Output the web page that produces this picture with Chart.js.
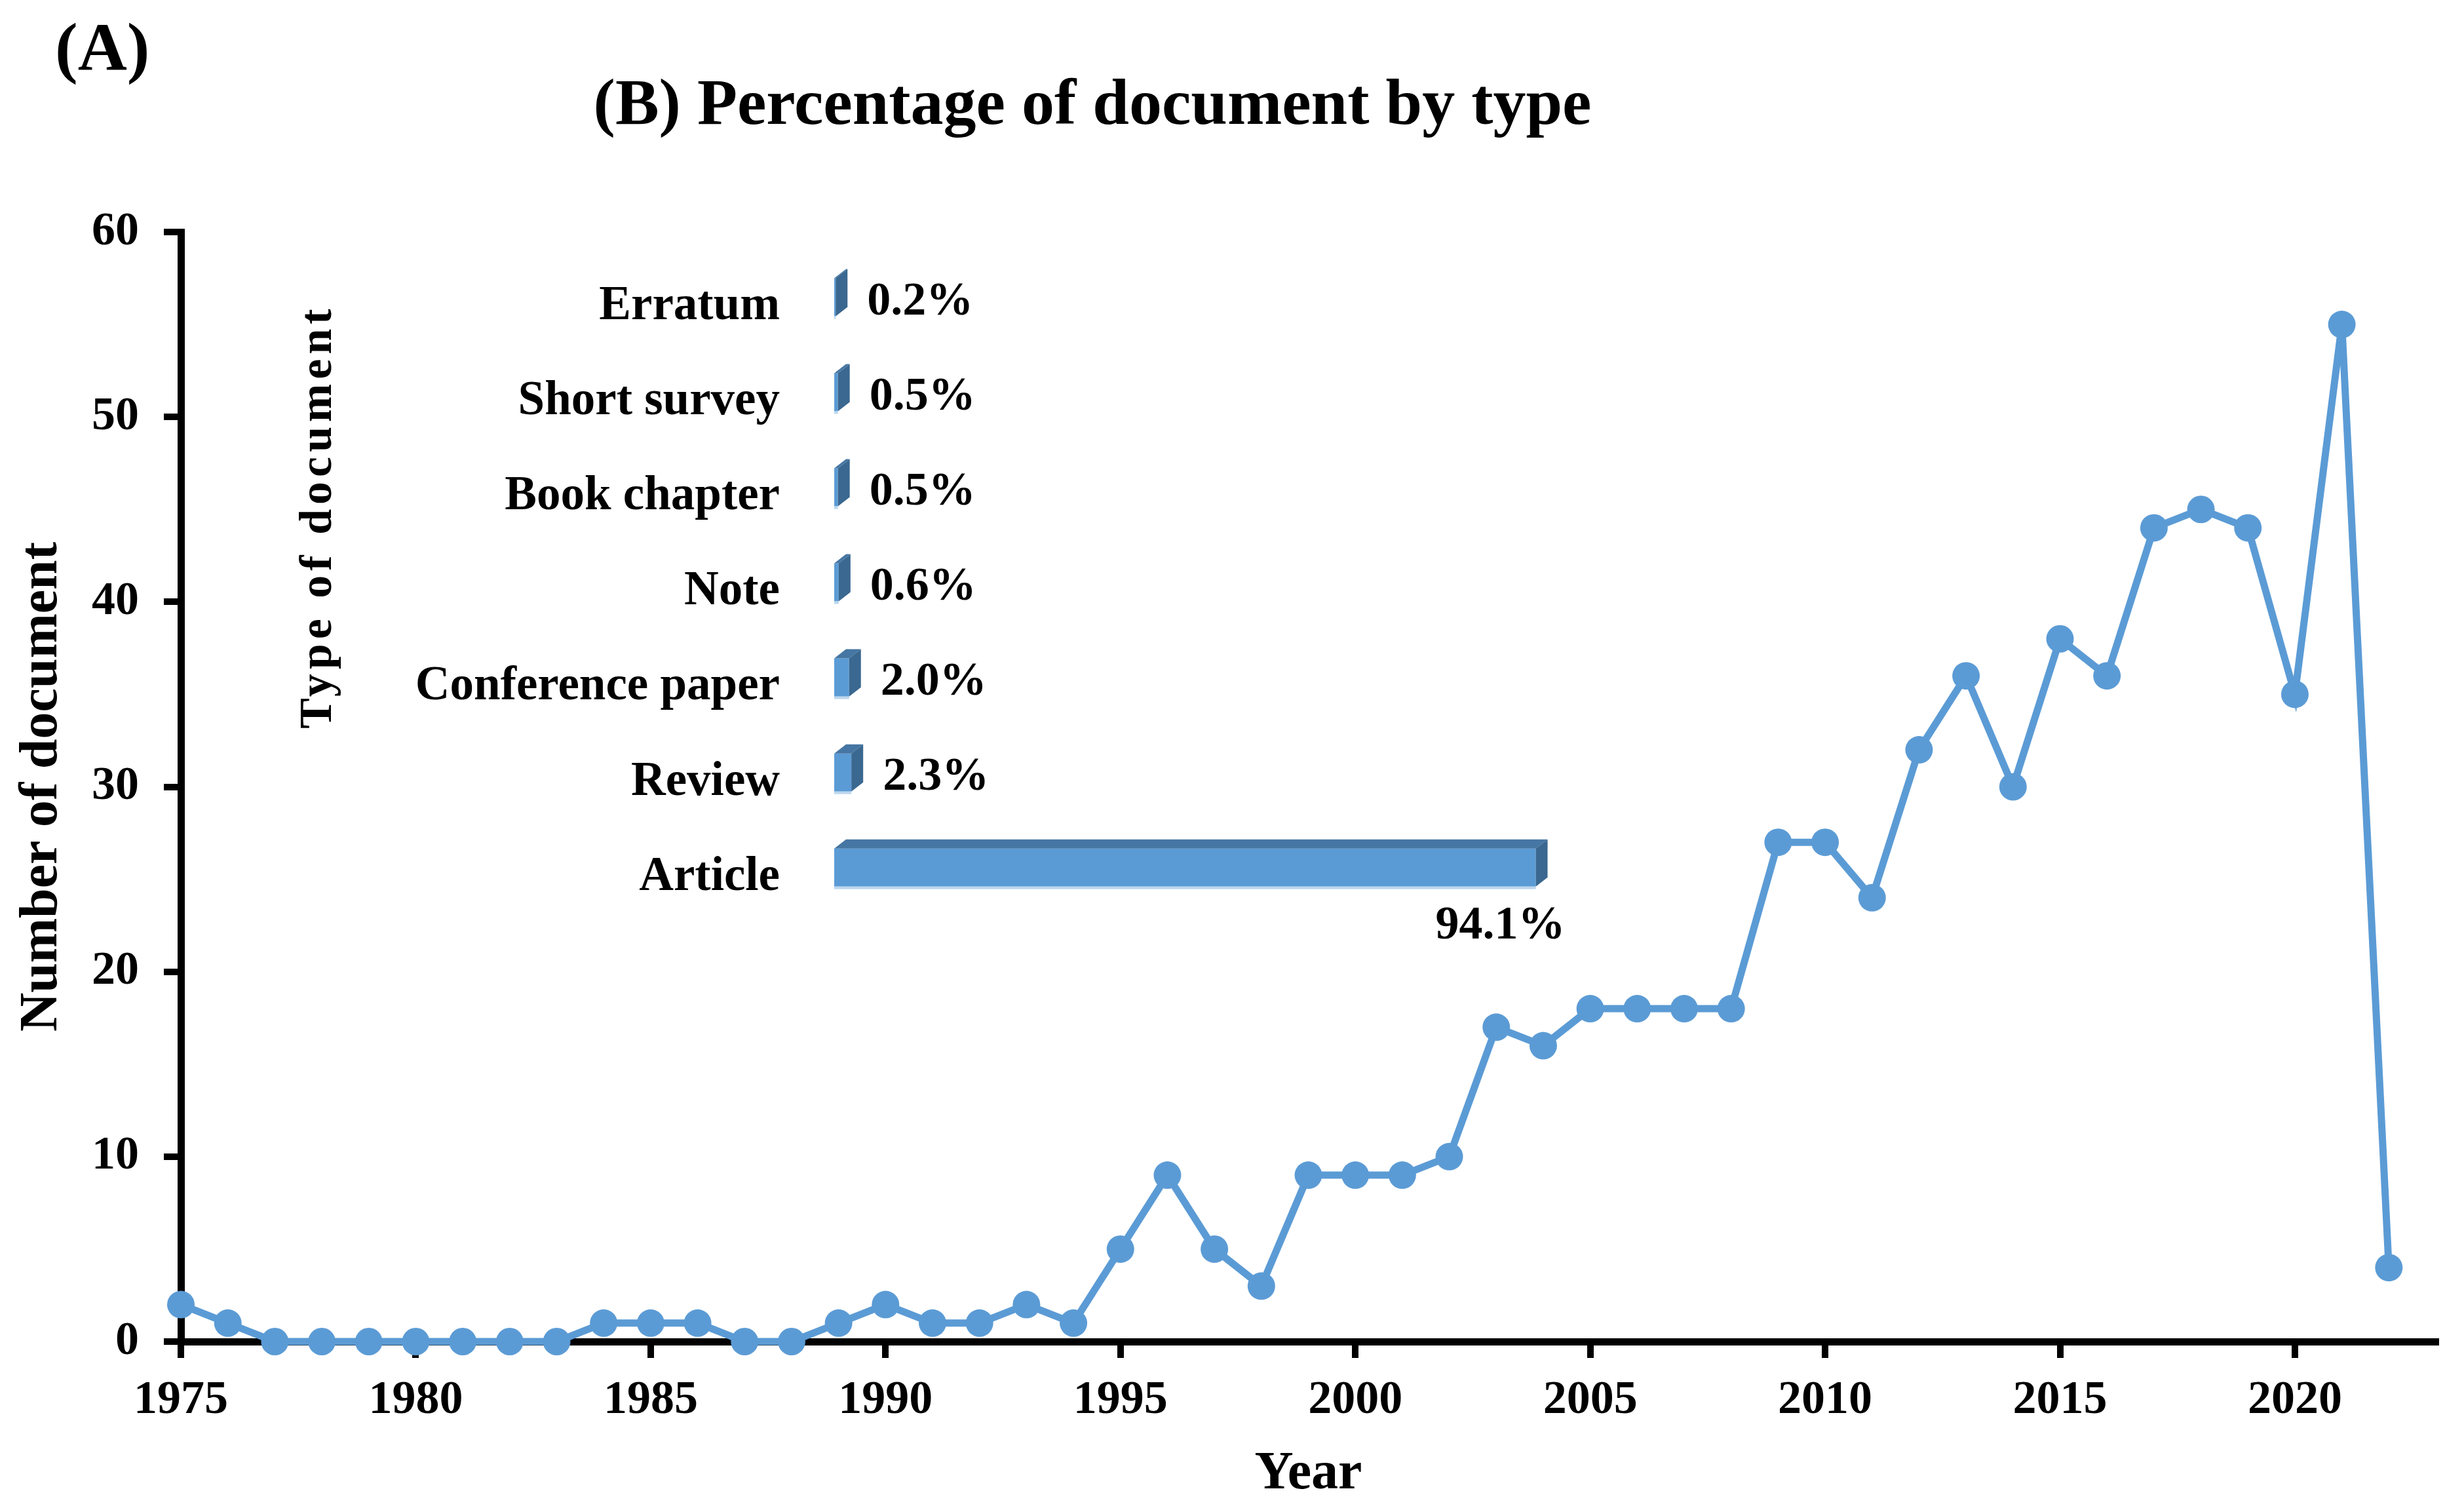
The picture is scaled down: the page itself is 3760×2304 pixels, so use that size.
<!DOCTYPE html>
<html>
<head>
<meta charset="utf-8">
<script src="https://cdn.jsdelivr.net/npm/chart.js@4.4.1/dist/chart.umd.min.js"></script>
<style>
    html, body { margin: 0; padding: 0; background: #fff; }
    #wrap { position: relative; width: 3760px; height: 2304px; }
    #mainChart { position: absolute; left: 0; top: 0; }
    #typeChart { position: absolute; left: 400px; top: 80px; }
</style>
</head>
<body>
<div id="wrap">
    <canvas id="mainChart" width="3760" height="2304"></canvas>
    <canvas id="typeChart" width="2534" height="1443"></canvas>
</div>
<script>
// (A) documents per year
const years = [
    1975, 1976, 1977, 1978, 1979, 1980, 1981, 1982, 1983, 1984,
    1985, 1986, 1987, 1988, 1989, 1990, 1991, 1992, 1993, 1994,
    1995, 1996, 1997, 1998, 1999, 2000, 2001, 2002, 2003, 2004,
    2005, 2006, 2007, 2008, 2009, 2010, 2011, 2012, 2013, 2014,
    2015, 2016, 2017, 2018, 2019, 2020, 2021, 2022
];
const documentCounts = [
    2, 1, 0, 0, 0, 0, 0, 0, 0, 1,
    1, 1, 0, 0, 1, 2, 1, 1, 2, 1,
    5, 9, 5, 3, 9, 9, 9, 10, 17, 16,
    18, 18, 18, 18, 27, 27, 24, 32, 36, 30,
    38, 36, 44, 45, 44, 35, 55, 4
];
const yearTicks = [1975, 1980, 1985, 1990, 1995, 2000, 2005, 2010, 2015, 2020];

// (B) share of documents by type (%)
const docTypes = ['Erratum', 'Short survey', 'Book chapter', 'Note', 'Conference paper', 'Review', 'Article'];
const docTypeShares = [0.2, 0.5, 0.5, 0.6, 2.0, 2.3, 94.1];

const panelA = '(A)';
const panelBTitle = '(B) Percentage of document by type';
const typeAxisTitle = 'Type of document';

const serif = "'Liberation Serif', 'Times New Roman', serif";
const blue = '#5B9BD5';
Chart.defaults.font.family = serif;
Chart.defaults.color = '#000';

const axisGrid = {
    drawOnChartArea: false,
    drawTicks: true,
    tickLength: 25,
    tickWidth: 10,
    tickColor: '#000',
    color: '#000',
    lineWidth: 10
};
const axisBorder = { display: true, color: '#000', width: 11 };

const panelLabel = {
    id: 'panelLabel',
    afterDraw(chart) {
        const ctx = chart.ctx;
        ctx.save();
        ctx.font = 'bold 104px ' + serif;
        ctx.fillStyle = '#000';
        ctx.textAlign = 'left';
        ctx.textBaseline = 'middle';
        ctx.fillText(panelA, 84, 80);
        ctx.restore();
    }
};

new Chart(document.getElementById('mainChart'), {
    type: 'line',
    data: {
        datasets: [{
            data: years.map((y, i) => ({ x: y, y: documentCounts[i] })),
            borderColor: blue,
            backgroundColor: blue,
            borderWidth: 11,
            pointRadius: 21,
            pointHoverRadius: 21,
            pointBorderWidth: 0,
            tension: 0,
            clip: false
        }]
    },
    options: {
        responsive: false,
        animation: false,
        layout: { padding: { top: 354, right: 43, left: 0, bottom: 0 } },
        plugins: {
            legend: { display: false },
            tooltip: { enabled: false }
        },
        scales: {
            x: {
                type: 'linear',
                min: 1975,
                max: 2023,
                afterBuildTicks: scale => {
                    scale.ticks = yearTicks.map(v => ({ value: v }));
                },
                afterFit: scale => { scale.height = 257; },
                ticks: {
                    font: { size: 72, weight: 'bold' },
                    color: '#000',
                    padding: 22,
                    maxRotation: 0,
                    autoSkip: false,
                    callback: v => String(v)
                },
                grid: axisGrid,
                border: axisBorder,
                title: {
                    display: true,
                    text: 'Year',
                    font: { size: 82, weight: 'bold' },
                    color: '#000',
                    padding: { top: 0, bottom: 5 }
                }
            },
            y: {
                min: 0,
                max: 60,
                afterFit: scale => { scale.width = 276; },
                ticks: {
                    stepSize: 10,
                    font: { size: 72, weight: 'bold' },
                    color: '#000',
                    padding: 38
                },
                grid: Object.assign({}, axisGrid, { tickLength: 26 }),
                border: axisBorder,
                title: {
                    display: true,
                    text: 'Number of document',
                    font: { size: 82, weight: 'bold' },
                    color: '#000',
                    padding: { top: 16, bottom: 0 }
                }
            }
        }
    },
    plugins: [panelLabel]
});

// fake 3d faces + value labels for the inset bars
const bars3d = {
    id: 'bars3d',
    afterDatasetsDraw(chart) {
        const ctx = chart.ctx;
        const dx = 18, dy = 14;
        chart.getDatasetMeta(0).data.forEach((bar, i) => {
            const p = bar.getProps(['x', 'y', 'base', 'height'], true);
            const x0 = p.base, x1 = p.x;
            const top = p.y - p.height / 2, bot = p.y + p.height / 2;
            ctx.save();
            ctx.fillStyle = '#4676A3';
            ctx.beginPath();
            ctx.moveTo(x0, top);
            ctx.lineTo(x0 + dx, top - dy);
            ctx.lineTo(x1 + dx, top - dy);
            ctx.lineTo(x1, top);
            ctx.closePath();
            ctx.fill();
            ctx.fillStyle = '#3A6890';
            ctx.beginPath();
            ctx.moveTo(x1, top);
            ctx.lineTo(x1 + dx, top - dy);
            ctx.lineTo(x1 + dx, bot - dy);
            ctx.lineTo(x1, bot);
            ctx.closePath();
            ctx.fill();
            ctx.fillStyle = '#BDD7EE';
            ctx.fillRect(x0, bot, x1 - x0, 4);

            ctx.fillStyle = '#000';
            ctx.font = 'bold 72px ' + serif;
            ctx.textBaseline = 'middle';
            const txt = docTypeShares[i].toFixed(1) + '%';
            if (x1 - x0 > 200) {
                ctx.textAlign = 'center';
                ctx.fillText(txt, x1 - 54, p.y + 90);
            } else {
                ctx.textAlign = 'left';
                ctx.fillText(txt, x1 + 48, p.y + 8);
            }
            ctx.restore();
        });
    },
    afterDraw(chart) {
        const ctx = chart.ctx;
        ctx.save();
        ctx.translate(87, 708);
        ctx.rotate(-Math.PI / 2);
        ctx.font = 'bold 70px ' + serif;
        ctx.letterSpacing = '7px';
        ctx.fillStyle = '#000';
        ctx.textAlign = 'center';
        ctx.textBaseline = 'middle';
        ctx.fillText(typeAxisTitle, 0, 0);
        ctx.restore();
    }
};

new Chart(document.getElementById('typeChart'), {
    type: 'bar',
    data: {
        labels: docTypes,
        datasets: [{
            data: docTypeShares,
            backgroundColor: blue,
            barPercentage: 0.4,
            categoryPercentage: 1
        }]
    },
    options: {
        indexAxis: 'y',
        responsive: false,
        animation: false,
        layout: { padding: { top: 0, left: 0, right: 0, bottom: 86 } },
        plugins: {
            legend: { display: false },
            tooltip: { enabled: false },
            title: {
                display: true,
                text: panelBTitle,
                font: { size: 100, weight: 'bold' },
                color: '#000',
                padding: { top: 23, bottom: 158 }
            }
        },
        scales: {
            x: { display: false, min: 0, max: 146 },
            y: {
                afterFit: scale => { scale.width = 873; },
                grid: { display: false, drawTicks: false },
                border: { display: false },
                ticks: {
                    font: { size: 73, weight: 'bold' },
                    color: '#000',
                    padding: 83,
                    labelOffset: 15
                }
            }
        }
    },
    plugins: [bars3d]
});
</script>
</body>
</html>
